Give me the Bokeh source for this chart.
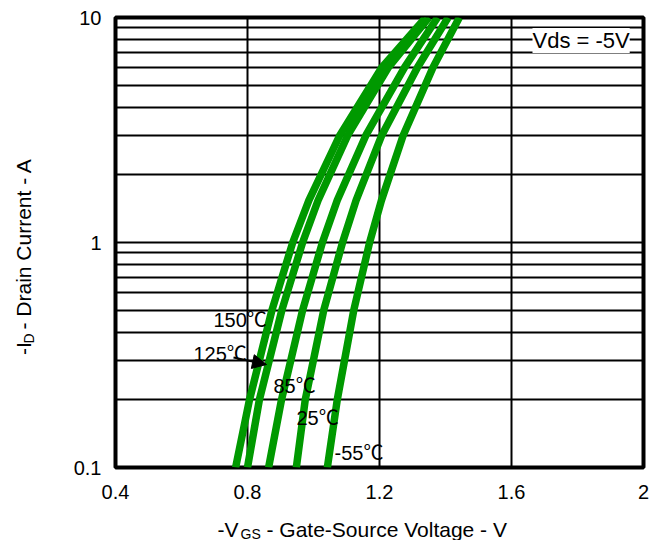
import numpy as np
from bokeh.plotting import figure
from bokeh.layouts import row, column
from bokeh.models import Label, Arrow, NormalHead, FixedTicker, Range1d
from bokeh.core.properties import value
from bokeh.embed import file_html
from bokeh.resources import INLINE

# ---------------- data ----------------
current = [0.1, 0.2, 0.5, 1.0, 1.54, 3.0, 6.0, 10.0]
vgs_150 = [0.764, 0.806, 0.874, 0.937, 0.986, 1.080, 1.207, 1.340]
vgs_125 = [0.800, 0.836, 0.904, 0.967, 1.014, 1.104, 1.227, 1.350]
vgs_85 = [0.864, 0.903, 0.967, 1.027, 1.072, 1.159, 1.276, 1.376]
vgs_25 = [0.948, 0.975, 1.031, 1.088, 1.129, 1.207, 1.315, 1.408]
vgs_m55 = [1.042, 1.072, 1.122, 1.170, 1.206, 1.272, 1.362, 1.442]
series = [vgs_150, vgs_125, vgs_85, vgs_25, vgs_m55]
temps = ["150℃", "125℃", "85℃", "25℃", "-55℃"]

x_ticks = [0.4, 0.8, 1.2, 1.6, 2.0]
x_tick_labels = ["0.4", "0.8", "1.2", "1.6", "2"]
y_ticks = [0.1, 1.0, 10.0]
y_tick_labels = ["0.1", "1", "10"]
y_grid = [0.1, 0.2, 0.3, 0.4, 0.5, 0.6, 0.7, 0.8, 0.9,
          1, 2, 3, 4, 5, 6, 7, 8, 9, 10]

FONT = "Liberation Sans, Noto Sans CJK SC"
GREEN = "#009900"

# layout geometry (page pixels)
TOTAL_W, TOTAL_H = 660, 540
YL_W = 60                      # width of the y-label strip
FL, FR, FT, FB = 115, 643, 17, 467   # plot frame
P_H = 512                      # height of main plot canvas


def at(xr, yr):
    """page pixel -> data coordinates of the main plot (for annotations)"""
    x = 0.4 + (xr - FL) / (FR - FL) * 1.6
    y = 10 ** (1 - (yr - FT) / (FB - FT) * 2)
    return x, y


p = figure(frame_width=FR - FL, frame_height=FB - FT,
           x_range=Range1d(0.4, 2.0), y_range=Range1d(0.1, 10),
           y_axis_type="log", output_backend="svg", toolbar_location=None,
           min_border_left=FL - YL_W, min_border_right=TOTAL_W - FR,
           min_border_top=FT, min_border_bottom=P_H - FB)

p.background_fill_color = "white"
p.border_fill_color = "white"
p.outline_line_color = "black"
p.outline_line_width = 4

# grids
p.xgrid.ticker = FixedTicker(ticks=x_ticks)
p.ygrid.ticker = FixedTicker(ticks=y_grid)
for g in (p.xgrid, p.ygrid):
    g.grid_line_color = "black"
    g.grid_line_width = 2
    g.grid_line_alpha = 1.0

# axes
p.xaxis.ticker = FixedTicker(ticks=x_ticks)
p.xaxis.major_label_overrides = {t: l for t, l in zip(x_ticks, x_tick_labels)}
p.yaxis.ticker = FixedTicker(ticks=y_ticks)
p.yaxis.major_label_overrides = {t: l for t, l in zip(y_ticks, y_tick_labels)}
for ax in (p.xaxis, p.yaxis):
    ax.axis_line_color = None
    ax.major_tick_line_color = None
    ax.minor_tick_line_color = None
    ax.major_tick_out = 0
    ax.major_tick_in = 0
    ax.minor_tick_out = 0
    ax.major_label_text_font = FONT
    ax.major_label_text_font_size = "20px"
    ax.major_label_text_color = "black"
p.xaxis.major_label_standoff = 17
p.yaxis.major_label_standoff = 14

# curves
for v in series:
    p.line(v, current, line_color=GREEN, line_width=7.5)

# curve labels
label_pos = [(213, 319), (193, 353), (273, 385), (296, 417), (334, 452)]
for t, (xr, yr) in zip(temps, label_pos):
    x, y = at(xr, yr)
    p.add_layout(Label(x=x, y=y, text=t, text_font=FONT, text_font_size="20px",
                       text_align="left", text_baseline="alphabetic",
                       text_color="black"))

# arrow for 125
xs, ys = at(233, 357)
xe, ye = at(266, 364)
p.add_layout(Arrow(x_start=xs, y_start=ys, x_end=xe, y_end=ye, line_width=2,
                   line_color="black",
                   end=NormalHead(size=14, fill_color="black", line_color="black")))

# Vds annotation
x, y = at(532, 40)
p.add_layout(Label(x=x, y=y, text="Vds = -5V", text_font=FONT,
                   text_font_size="22px", text_align="left",
                   text_baseline="alphabetic", text_color="black",
                   background_fill_color="white", background_fill_alpha=1.0))


def strip(w, h, y0):
    f = figure(width=w, height=h, x_range=Range1d(0, w),
               y_range=Range1d(y0 + h, y0), output_backend="svg",
               toolbar_location=None, min_border=0,
               x_axis_location=None, y_axis_location=None)
    f.grid.visible = False
    f.outline_line_color = None
    f.background_fill_color = "white"
    f.border_fill_color = "white"
    return f


# y axis label strip (rotated, with subscript)
fy = strip(YL_W, P_H, 0)
yb = 23
pieces_y = [("-I", yb, 384, "21px"), ("D", yb + 5, 371, "14px"),
            ("- Drain Current - A", yb, 355, "21px")]
for t, xr, yr, fs in pieces_y:
    fy.text(x=[xr], y=[yr], text=[t], text_font=value(FONT),
            text_font_size=value(fs), text_align="left",
            text_baseline="alphabetic", angle=np.pi / 2, text_color="black")

# x axis label strip (with subscript)
fx = strip(TOTAL_W, TOTAL_H - P_H, P_H)
xb = 529
pieces_x = [("-V", 217, xb, "21px"), ("GS", 240, xb + 4, "14px"),
            ("- Gate-Source Voltage - V", 266, xb, "21px")]
for t, xr, yr, fs in pieces_x:
    fx.text(x=[xr], y=[yr], text=[t], text_font=value(FONT),
            text_font_size=value(fs), text_align="left",
            text_baseline="alphabetic", text_color="black")

layout = column(row(fy, p), fx)
open("out.html", "w").write(file_html(layout, INLINE))
